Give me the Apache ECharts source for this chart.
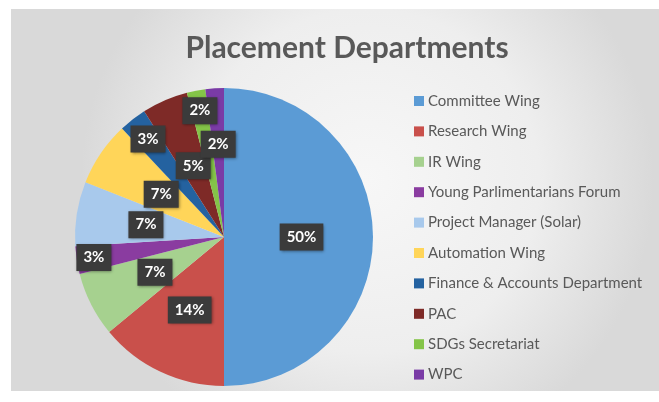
<!DOCTYPE html>
<html>
<head>
<meta charset="utf-8">
<script src="https://cdn.jsdelivr.net/npm/echarts@6/dist/echarts.min.js"></script>
<style>
html,body{margin:0;padding:0;background:#ffffff;}
#chart{width:659px;height:402px;}
</style>
</head>
<body>
<div id="chart"></div>
<script>
var categories = ['Committee Wing', 'Research Wing', 'IR Wing', 'Young Parlimentarians Forum', 'Project Manager (Solar)', 'Automation Wing', 'Finance & Accounts Department', 'PAC', 'SDGs Secretariat', 'WPC'];
var values = [50, 14, 7, 3, 7, 7, 3, 5, 2, 2];
var colors = ['#5B9BD5', '#C9504B', '#A6D18F', '#8A3CA0', '#A8C9EC', '#FFD559', '#2462A0', '#7E2A27', '#84C448', '#7A3BA6'];
var labelRadius = [0.5, 0.52, 0.5, 0.85, 0.51, 0.49, 0.8, 0.5, 0.83, 0.6];

var CX = 224, CY = 237, R = 149;

var chart = echarts.init(document.getElementById('chart'), null, {renderer: 'canvas'});
var option = {
  animation: false,
  graphic: [{
    type: 'rect',
    z: -10,
    shape: {x: 11, y: 9, width: 648, height: 382},
    style: {
      fill: new echarts.graphic.RadialGradient(0.55, 0.45, 0.75, [
        {offset: 0, color: '#f7f7f7'},
        {offset: 0.6, color: '#eeeeee'},
        {offset: 1, color: '#d9d9d9'}
      ])
    }
  }],
  title: {
    text: 'Placement Departments',
    left: 342,
    textAlign: 'center',
    top: 28,
    textStyle: {fontFamily: 'Lato', fontWeight: 'bold', fontSize: 30, color: '#595959'}
  },
  legend: {
    orient: 'vertical',
    left: 414,
    top: 93,
    padding: 0,
    icon: 'rect',
    itemWidth: 10,
    itemHeight: 10,
    itemGap: 14.4,
    data: categories,
    textStyle: {fontFamily: 'Lato', fontSize: 15, color: '#595959', lineHeight: 16, padding: [0, 0, 0, -1]}
  },
  series: [{
    type: 'pie',
    center: [CX, CY],
    radius: [0, R],
    startAngle: 90,
    clockwise: true,
    avoidLabelOverlap: false,
    itemStyle: {borderWidth: 0},
    label: {
      show: true,
      position: 'inside',
      formatter: '{c}%',
      fontFamily: 'Lato',
      fontWeight: 'bold',
      fontSize: 15,
      color: '#ffffff',
      backgroundColor: '#3b3b3b',
      padding: [6, 7],
      shadowColor: 'rgba(0,0,0,0.45)',
      shadowBlur: 3,
      shadowOffsetX: 1,
      shadowOffsetY: 1
    },
    labelLine: {show: false},
    labelLayout: function (p) {
      var k = labelRadius[p.dataIndex] / 0.5;
      var lx = p.labelRect.x + p.labelRect.width / 2;
      var ly = p.labelRect.y + p.labelRect.height / 2;
      return {dx: (lx - CX) * (k - 1), dy: (ly - CY) * (k - 1)};
    },
    emphasis: {disabled: true},
    data: categories.map(function (c, i) {
      return {name: c, value: values[i], itemStyle: {color: colors[i]}};
    })
  }]
};
chart.setOption(option);
</script>
</body>
</html>
